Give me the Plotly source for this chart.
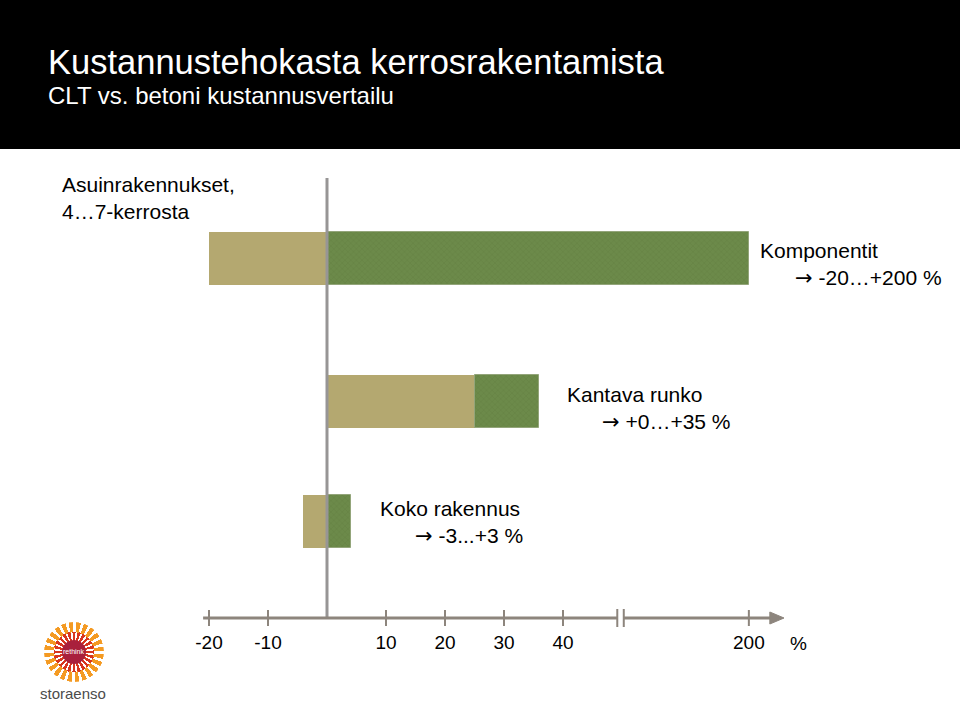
import plotly.graph_objects as go

# ---------------- data ----------------
CATEGORIES = ["Komponentit", "Kantava runko", "Koko rakennus"]
RANGE_TEXT = ["-20…+200 %", "+0…+35 %", "-3...+3 %"]
TAN_FROM = [-20, 0, -4]
TAN_TO = [0, 25, 0]
GREEN_FROM = [0, 25, 0]
GREEN_TO = [200, 36, 4]
TICK_VALUES = [-20, -10, 10, 20, 30, 40, 200]
TICK_LABELS = ["-20", "-10", "10", "20", "30", "40", "200"]
TITLE = "Kustannustehokasta kerrosrakentamista"
SUBTITLE = "CLT vs. betoni kustannusvertailu"
GROUP_LINES = ["Asuinrakennukset,", "4…7-kerrosta"]
UNIT = "%"

# ---------------- layout helpers ----------------
W, H = 960, 702
FONT = "Liberation Sans, Arial, sans-serif"
TAN = "#b4a870"
GREEN = "#6c8a4a"
AXIS_COL = "#8d857d"
ZERO_COL = "#979595"

ZERO_PX = 327
PX_PER_UNIT = 5.9
BREAK_LO = 49.2
BREAK_GAP = 1.1
COMPRESS = 0.1406


def to_axis(v):
    """broken axis: linear up to the break, compressed after it"""
    if v <= BREAK_LO:
        return v
    return BREAK_LO + BREAK_GAP + (v - BREAK_LO) * COMPRESS


def px_x(px):
    return px / W


def px_y(py):
    return 1 - py / H


ROW_Y = [0, 1.09, 2.0]
ROW0_PX = 258
PX_PER_ROW = 131.75
BAR_W = 53 / PX_PER_ROW
AXIS_PX = 618

fig = go.Figure()

fig.add_trace(go.Bar(
    orientation="h", y=ROW_Y,
    base=[to_axis(a) for a in TAN_FROM],
    x=[to_axis(b) - to_axis(a) for a, b in zip(TAN_FROM, TAN_TO)],
    width=BAR_W, marker=dict(color=TAN, line=dict(width=0)),
    hoverinfo="skip", showlegend=False,
))
fig.add_trace(go.Bar(
    orientation="h", y=ROW_Y,
    base=[to_axis(a) for a in GREEN_FROM],
    x=[to_axis(b) - to_axis(a) for a, b in zip(GREEN_FROM, GREEN_TO)],
    width=BAR_W,
    marker=dict(color=GREEN, line=dict(width=1, color="#93a57a"),
                pattern=dict(shape="x", size=4, solidity=0.3,
                             fgcolor="#5f7d3e", bgcolor=GREEN)),
    hoverinfo="skip", showlegend=False,
))

# ---------------- logo (sunburst) ----------------
N = 24
thetas = [i * 360 / N for i in range(N)]
fig.add_trace(go.Barpolar(
    r=[0.3] * N, base=[0.38] * N, theta=thetas, width=[9] * N,
    marker=dict(color="#d8361f", line=dict(width=0)),
    subplot="polar", hoverinfo="skip", showlegend=False,
))
fig.add_trace(go.Barpolar(
    r=[0.34] * N, base=[0.66] * N, theta=[t + 6 for t in thetas], width=[9] * N,
    marker=dict(color="#f49a22", line=dict(width=0)),
    subplot="polar", hoverinfo="skip", showlegend=False,
))

shapes = []
# header
shapes.append(dict(type="rect", xref="paper", yref="paper", x0=0, x1=1,
                   y0=px_y(149), y1=1, fillcolor="black",
                   line=dict(width=0), layer="below"))
# zero line
shapes.append(dict(type="line", xref="x", yref="paper", x0=0, x1=0,
                   y0=px_y(AXIS_PX), y1=px_y(178),
                   line=dict(color=ZERO_COL, width=3), layer="above"))
# axis line with break
ax_start = -21.0
ax_end = (784 - ZERO_PX) / PX_PER_UNIT
shapes.append(dict(type="line", xref="x", yref="paper", x0=ax_start, x1=BREAK_LO,
                   y0=px_y(AXIS_PX), y1=px_y(AXIS_PX),
                   line=dict(color=AXIS_COL, width=3)))
shapes.append(dict(type="line", xref="x", yref="paper", x0=BREAK_LO + BREAK_GAP,
                   x1=ax_end - 1.5, y0=px_y(AXIS_PX), y1=px_y(AXIS_PX),
                   line=dict(color=AXIS_COL, width=3)))
for bx in (BREAK_LO, BREAK_LO + BREAK_GAP):
    shapes.append(dict(type="line", xref="x", yref="paper", x0=bx, x1=bx,
                       y0=px_y(AXIS_PX + 9), y1=px_y(AXIS_PX - 9),
                       line=dict(color=AXIS_COL, width=2)))
for v in TICK_VALUES:
    u = to_axis(v)
    shapes.append(dict(type="line", xref="x", yref="paper", x0=u, x1=u,
                       y0=px_y(AXIS_PX + 8), y1=px_y(AXIS_PX - 8),
                       line=dict(color=AXIS_COL, width=2)))
# arrow head
ah = 6 / H
shapes.append(dict(type="path", xref="x", yref="paper",
                   path=f"M {ax_end - 2.4},{px_y(AXIS_PX) + ah} L {ax_end},{px_y(AXIS_PX)} "
                        f"L {ax_end - 2.4},{px_y(AXIS_PX) - ah} Z",
                   fillcolor=AXIS_COL, line=dict(color=AXIS_COL, width=1)))
# logo centre
shapes.append(dict(type="circle", xref="paper", yref="paper",
                   xsizemode="pixel", ysizemode="pixel",
                   xanchor=px_x(74), yanchor=px_y(652),
                   x0=-12, x1=12, y0=-12, y1=12,
                   fillcolor="#a9203c", line=dict(width=0), layer="above"))

ann = []


def txt(text, x, y, size, color="black", anchor="left"):
    ann.append(dict(text=text, x=px_x(x), y=px_y(y), xref="paper", yref="paper",
                    xanchor=anchor, yanchor="middle", align="left", showarrow=False,
                    font=dict(family=FONT, size=size, color=color)))


ARROW = '<span style="font-family:DejaVu Sans">→</span>'
NB = "\u00a0"

txt(TITLE, 46, 62, 34.5, "white")
txt(SUBTITLE, 46, 96, 24, "white")
txt(GROUP_LINES[0] + "<br>" + GROUP_LINES[1], 60, 198, 21)

label_pos = [(758, 265), (565, 408), (378, 522)]
for cat, rng, (x, y) in zip(CATEGORIES, RANGE_TEXT, label_pos):
    txt(cat + "<br>" + NB * 6 + ARROW + " " + rng, x, y, 21)

txt(UNIT, 798, 643, 19, anchor="center")
txt("rethink", 74, 651, 7, "white", anchor="center")
txt("storaenso", 73, 693, 15, "#4b4b4b", anchor="center")

x_range = [-ZERO_PX / PX_PER_UNIT, (W - ZERO_PX) / PX_PER_UNIT]
y_range = [(H - ROW0_PX) / PX_PER_ROW, -ROW0_PX / PX_PER_ROW]

fig.update_layout(
    width=W, height=H, margin=dict(l=0, r=0, t=0, b=0),
    paper_bgcolor="white", plot_bgcolor="rgba(0,0,0,0)",
    barmode="overlay", bargap=0,
    xaxis=dict(range=x_range, domain=[0, 1], showgrid=False, zeroline=False,
               showline=False, ticks="", anchor="free", position=px_y(AXIS_PX),
               tickvals=[to_axis(v) for v in TICK_VALUES], ticktext=TICK_LABELS,
               tickfont=dict(family=FONT, size=19, color="black"),
               ticklabelstandoff=11, fixedrange=True),
    yaxis=dict(range=y_range, domain=[0, 1], visible=False, fixedrange=True),
    polar=dict(domain=dict(x=[px_x(44), px_x(104)], y=[px_y(682), px_y(622)]),
               bgcolor="rgba(0,0,0,0)",
               radialaxis=dict(visible=False, range=[0, 1]),
               angularaxis=dict(visible=False)),
    shapes=shapes, annotations=ann,
    font=dict(family=FONT),
)

fig.write_html("out.html", config={"displayModeBar": False},
               post_script="document.body.style.margin='0';document.body.style.overflow='hidden';")
